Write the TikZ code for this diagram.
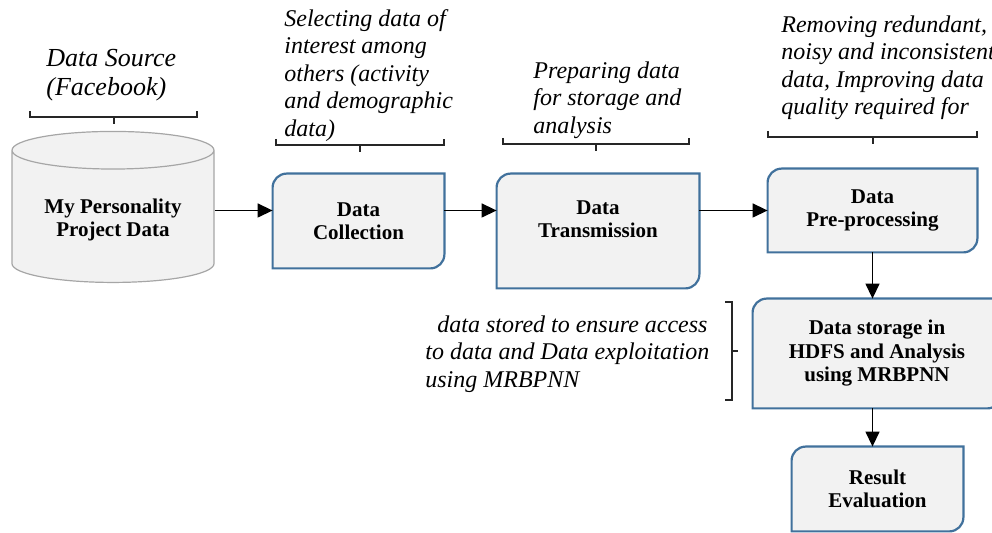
\documentclass[tikz,border=0pt]{standalone}
\usepackage{fontspec}
\setmainfont{Liberation Serif}[ItalicFont={Liberation Serif Italic},BoldFont={Liberation Serif Bold}]
\usetikzlibrary{shapes.geometric,arrows.meta,calc,backgrounds}
\definecolor{boxblue}{HTML}{41719C}
\definecolor{boxfill}{HTML}{F2F2F2}
\definecolor{dbline}{HTML}{A6A6A6}

\begin{document}
\begin{tikzpicture}[x=0.5pt,y=-0.5pt]
      \tikzstyle{proc} = [inner sep=2pt, align=center, font=\fontsize{10.5}{11.75}\selectfont\bfseries]
      \tikzstyle{store} = [cylinder, shape border rotate=90, aspect=0.25, draw=dbline, fill=boxfill, line width=0.6pt, align=center, font=\fontsize{10.5}{11.75}\selectfont\bfseries]
      \tikzstyle{note} = [inner sep=0pt, anchor=north west, align=left, font=\fontsize{12}{13.75}\selectfont\itshape]
      \tikzstyle{flow} = [-{Triangle[length=7.5pt,width=7pt]}, line width=0.7pt]
      \tikzstyle{brace} = [line width=0.6pt, black!85]
      \tikzstyle{frame} = [draw=boxblue, fill=boxfill, line width=1.1pt]
      \useasboundingbox (0,0) rectangle (992,533);
      \begin{scope}
	\path
	node[store, minimum width=101pt, minimum height=75.5pt] (db) at (113,220) {My Personality\\Project Data}
	node[proc, minimum width=85.5pt, minimum height=47pt] (coll) at (358.5,221) {Data\\Collection}
	node[proc, minimum width=101pt, minimum height=57pt] (trans) at (598,231) {Data\\Transmission\\~}
	node[proc, minimum width=104.5pt, minimum height=41.5pt] (prep) at (872.5,210.5) {Data\\Pre-processing}
	node[proc, minimum width=124pt, minimum height=54.5pt] (hdfs) at (877,353.5) {Data storage in\\HDFS and Analysis\\using MRBPNN}
	node[proc, minimum width=85.5pt, minimum height=42pt] (eval) at (877.5,489) {Result\\Evaluation}
	node[note, font=\fontsize{13}{14.5}\selectfont\itshape] (src) at (46,49) {Data Source\\(Facebook)}
	node[note] (select) at (284,9) {Selecting data of\\interest among\\others (activity\\and demographic\\data)}
	node[note] (ready) at (533,61) {Preparing data\\for storage and\\analysis}
	node[note] (clean) at (781,15) {Removing redundant,\\noisy and inconsistent\\data, Improving data\\quality required for}
	node[note] (kept) at (425,315) {\hspace*{6pt}data stored to ensure access\\to data and Data exploitation\\using MRBPNN}
	(db.east |- prep.west) edge[flow] (coll.west |- prep.west)
	(coll.east |- prep.west) edge[flow] (trans.west |- prep.west)
	(trans.east |- prep.west) edge[flow] (prep.west)
	(prep.south) edge[flow] (prep.south |- hdfs.north)
	(prep.south |- hdfs.south) edge[flow] (prep.south |- eval.north)
	;
      \end{scope}
      % boxes with two rounded corners
      \begin{pgfonlayer}{background}
	\foreach \n in {coll,trans,prep,hdfs,eval}
	  \draw[frame] (\n.south west) -- ($(\n.north west)+(0,-7pt)$) arc[start angle=180,end angle=90,radius=7pt]
	    -- (\n.north east) -- ($(\n.south east)+(0,7pt)$) arc[start angle=0,end angle=-90,radius=7pt] -- cycle;
      \end{pgfonlayer}
      % braces
      \foreach \xa/\xb/\yb/\xm in {30/197/117/114, 276/444/145/360, 503/689/144/596, 768/977/137/873}
	\draw[brace] (\xa,\yb-6) -- (\xa,\yb) -- (\xb,\yb) -- (\xb,\yb-6) (\xm,\yb) -- (\xm,\yb+7);
      \draw[brace] (725,302) -- (732,302) -- (732,400) -- (725,400) (732,351) -- (738,351);
    \end{tikzpicture}
\end{document}
